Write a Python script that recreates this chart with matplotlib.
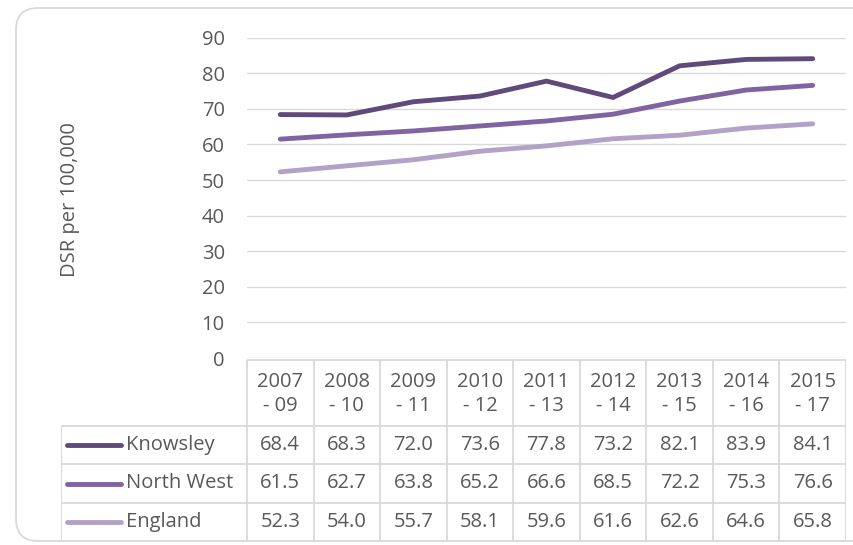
"""Knowsley DSR per 100,000 trend chart with an Excel-style data table."""

import matplotlib.pyplot as plt
from matplotlib.patches import FancyBboxPatch

periods = ["2007\n- 09", "2008\n- 10", "2009\n- 11", "2010\n- 12", "2011\n- 13",
           "2012\n- 14", "2013\n- 15", "2014\n- 16", "2015\n- 17"]
knowsley = [68.4, 68.3, 72.0, 73.6, 77.8, 73.2, 82.1, 83.9, 84.1]
north_west = [61.5, 62.7, 63.8, 65.2, 66.6, 68.5, 72.2, 75.3, 76.6]
england = [52.3, 54.0, 55.7, 58.1, 59.6, 61.6, 62.6, 64.6, 65.8]

series = [("Knowsley", knowsley, "#604a7b"),
          ("North West", north_west, "#8064a2"),
          ("England", england, "#b3a2c7")]

W, H = 854, 545
TXT = "#595959"
GRID = "#d9d9d9"
FS = 14.5
plt.rcParams["font.family"] = ["Open Sans", "DejaVu Sans"]


def px_axes(fig, left, top, right, bottom, **kw):
    return fig.add_axes([left / W, 1 - bottom / H, (right - left) / W, (bottom - top) / H], **kw)


fig = plt.figure(figsize=(W / 100, H / 100), dpi=100)

# rounded chart frame (runs off the right edge like the source screenshot)
frame_ax = px_axes(fig, 0, 0, W, H)
frame_ax.set_xlim(0, W)
frame_ax.set_ylim(H, 0)
frame_ax.axis("off")
frame_ax.add_patch(FancyBboxPatch((16, 8), 900, 533, boxstyle="round,pad=0,rounding_size=22",
                                  fill=False, ec=GRID, lw=1.3))

# main line chart
x = list(range(len(periods)))
ax = px_axes(fig, 247, 37.7, 846, 358)
ax.set_xlim(-0.5, len(periods) - 0.5)
ax.set_ylim(0, 90)
ax.set_yticks(range(0, 91, 10))
ax.set_xticks([])
ax.grid(axis="y", color=GRID, lw=1)
ax.set_axisbelow(True)
for s in ax.spines.values():
    s.set_visible(False)
ax.tick_params(axis="y", length=0, pad=16, labelsize=FS, labelcolor=TXT)
for name, vals, col in series:
    ax.plot(x, vals, color=col, lw=3.5, solid_capstyle="round", solid_joinstyle="round",
            clip_on=False)
fig.text(70 / W, 1 - 200 / H, "DSR per 100,000", rotation=90, ha="center", va="center",
         fontsize=FS, color=TXT)

# data table below the plot
label_w = (247 - 61) / ((846 - 247) / len(periods))
tab = px_axes(fig, 61, 358, 846, 541)
tab.set_xlim(-0.5 - label_w, len(periods) - 0.5)
tab.set_ylim(541, 358)
tab.axis("off")
row_edges = [360, 426, 464, 503, 541]
x0, x1 = -0.5 - label_w, len(periods) - 0.5
tab.hlines(row_edges[0], -0.5, x1, color=GRID, lw=1.3)
tab.hlines(row_edges[1:], x0, x1, color=GRID, lw=1.3)
tab.vlines([i - 0.5 for i in range(len(periods) + 1)], row_edges[0], row_edges[-1],
           color=GRID, lw=1.3)
tab.vlines(x0, row_edges[1], row_edges[-1], color=GRID, lw=1.3)

for i, p in enumerate(periods):
    tab.text(i, (row_edges[0] + row_edges[1]) / 2 + 1, p, ha="center", va="center",
             fontsize=FS, color=TXT, linespacing=1.3)

for r, (name, vals, col) in enumerate(series):
    yc = (row_edges[r + 1] + row_edges[r + 2]) / 2
    key_start = x0 + 6 / 66.55
    key_end = x0 + 60 / 66.55
    tab.plot([key_start, key_end], [yc, yc], color=col, lw=3.5, solid_capstyle="round")
    tab.text(key_end + 5 / 66.55, yc, name, ha="left", va="center", fontsize=FS, color=TXT)
    for i, v in enumerate(vals):
        tab.text(i, yc, f"{v:.1f}", ha="center", va="center", fontsize=FS, color=TXT)

fig.savefig("out.png", dpi=100)
